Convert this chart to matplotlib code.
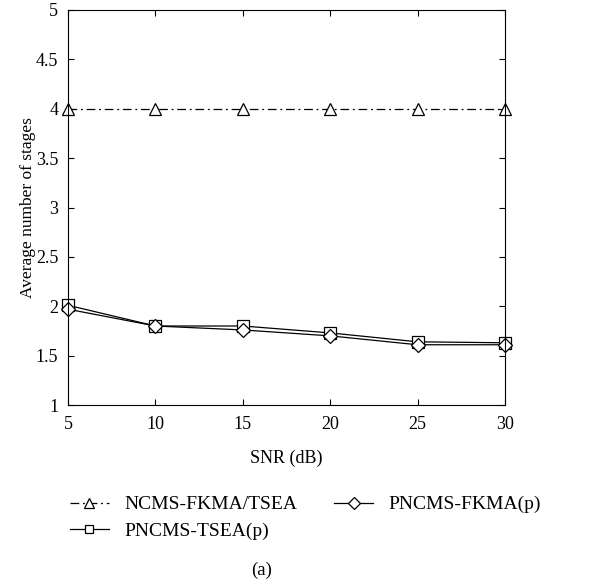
import numpy as np
import matplotlib.pyplot as plt

snr = [5, 10, 15, 20, 25, 30]
ncms = [4.0, 4.0, 4.0, 4.0, 4.0, 4.0]
pncms_tsea = [2.01, 1.80, 1.80, 1.73, 1.64, 1.63]
pncms_fkma = [1.97, 1.80, 1.76, 1.70, 1.61, 1.61]

plt.rcParams["font.family"] = ["Liberation Serif", "DejaVu Serif"]
plt.rcParams["font.size"] = 13

fig = plt.figure(figsize=(6.15, 5.85), dpi=100)
ax = fig.add_axes([68 / 615, 1 - 405 / 585, 437 / 615, 395 / 585])

style = dict(color="black", lw=0.9, mfc="white", mec="black", mew=0.9, clip_on=False)
ax.plot(snr, ncms, ls=(0, (7, 3, 1.5, 3)), marker="^", ms=9, label="NCMS-FKMA/TSEA", **style)
ax.plot(snr, pncms_tsea, ls="-", marker="s", ms=8, label="PNCMS-TSEA(p)", **style)
ax.plot(snr, pncms_fkma, ls="-", marker="D", ms=7.5, label="PNCMS-FKMA(p)", **style)

ax.set_xlim(5, 30)
ax.set_ylim(1, 5)
ax.set_xticks(snr)
ax.set_yticks(np.arange(1, 5.01, 0.5))
ax.set_yticklabels(["1", "1.5", "2", "2.5", "3", "3.5", "4", "4.5", "5"])
ax.tick_params(direction="in", top=True, right=True, length=4.5, width=0.8)
ax.tick_params(axis="x", pad=8)
ax.tick_params(axis="y", pad=7)
for s in ax.spines.values():
    s.set_linewidth(0.8)
ax.set_xlabel("SNR (dB)", fontsize=13)
ax.xaxis.set_label_coords(0.5, -(458 - 405) / 395, transform=ax.transAxes)
ax.xaxis.label.set_va("center")
ax.set_ylabel("Average number of stages", fontsize=12.5)
ax.yaxis.set_label_coords(-(68 - 28) / 437, 0.5)
ax.yaxis.label.set_va("center")

fig.legend(loc="upper left", bbox_to_anchor=(62 / 615, 1 - 488 / 585), ncol=2,
           frameon=False, handlelength=2.0, columnspacing=1.9, labelspacing=0.45,
           handletextpad=0.8, fontsize=14, markerscale=0.75, borderaxespad=0)
fig.text(262 / 615, 1 - 570 / 585, "(a)", ha="center", va="center", fontsize=13.5)

fig.savefig("out.png", dpi=100)
